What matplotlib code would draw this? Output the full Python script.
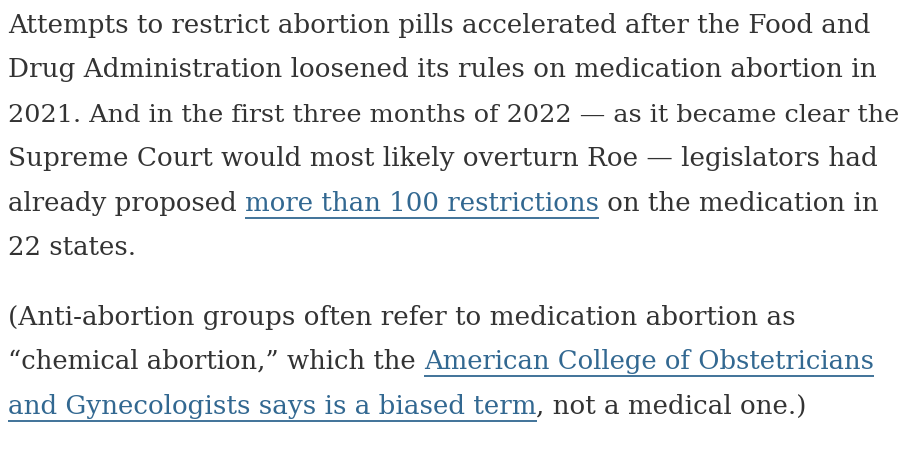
import matplotlib
matplotlib.use("Agg")
import matplotlib.pyplot as plt

# text of the excerpt, one list per rendered line: (text, is_link)
para1 = [
    [("Attempts to restrict abortion pills accelerated after the Food and", False)],
    [("Drug Administration loosened its rules on medication abortion in", False)],
    [("2021. And in the first three months of 2022 \u2014 as it became clear the", False)],
    [("Supreme Court would most likely overturn Roe \u2014 legislators had", False)],
    [("already proposed ", False), ("more than 100 restrictions", True), (" on the medication in", False)],
    [("22 states.", False)],
]
para2 = [
    [("(Anti-abortion groups often refer to medication abortion as", False)],
    [("\u201cchemical abortion,\u201d which the ", False), ("American College of Obstetricians", True)],
    [("and Gynecologists says is a biased term", True), (", not a medical one.)", False)],
]
baselines1 = [33, 77, 122, 166, 211, 255]
baselines2 = [325, 369, 414]
# right edge of each line in the reference (None = short last line)
ends1 = [867, 873, 897, 876, 875, None]
ends2 = [794, 876, 806]

text_color = "#333333"
link_color = "#326891"
family = "DejaVu Serif"

fig = plt.figure(figsize=(9, 4.54), dpi=100)
ax = fig.add_axes([0, 0, 1, 1])
ax.set_xlim(0, 900)
ax.set_ylim(454, 0)
ax.axis("off")
renderer = fig.canvas.get_renderer()


def text_width(s, size):
    t = ax.text(0, 0, s + "|", fontsize=size, family=family)
    w = t.get_window_extent(renderer).width
    t.remove()
    t2 = ax.text(0, 0, "|", fontsize=size, family=family)
    w2 = t2.get_window_extent(renderer).width
    t2.remove()
    return w - w2


x0 = 8
lines = para1 + para2
bases = baselines1 + baselines2
ends = ends1 + ends2

# font size per line so it spans the same width as in the reference
sizes = []
for segs, e in zip(lines, ends):
    full = "".join(s for s, _ in segs)
    sizes.append(None if e is None else 20 * (e - x0) / text_width(full, 20))
avg = sum(s for s in sizes if s) / len([s for s in sizes if s])
sizes = [avg if s is None else s for s in sizes]

for segs, y, size in zip(lines, bases, sizes):
    prefix = ""
    for s, link in segs:
        x = x0 + text_width(prefix, size) if prefix else x0
        ax.text(x, y, s, fontsize=size, family=family, va="baseline",
                color=link_color if link else text_color)
        if link:
            w = text_width(s, size)
            ax.plot([x, x + w], [y + 7, y + 7], color=link_color, lw=1.3,
                    solid_capstyle="butt")
        prefix += s

fig.savefig("out.png", dpi=100, facecolor="white")
